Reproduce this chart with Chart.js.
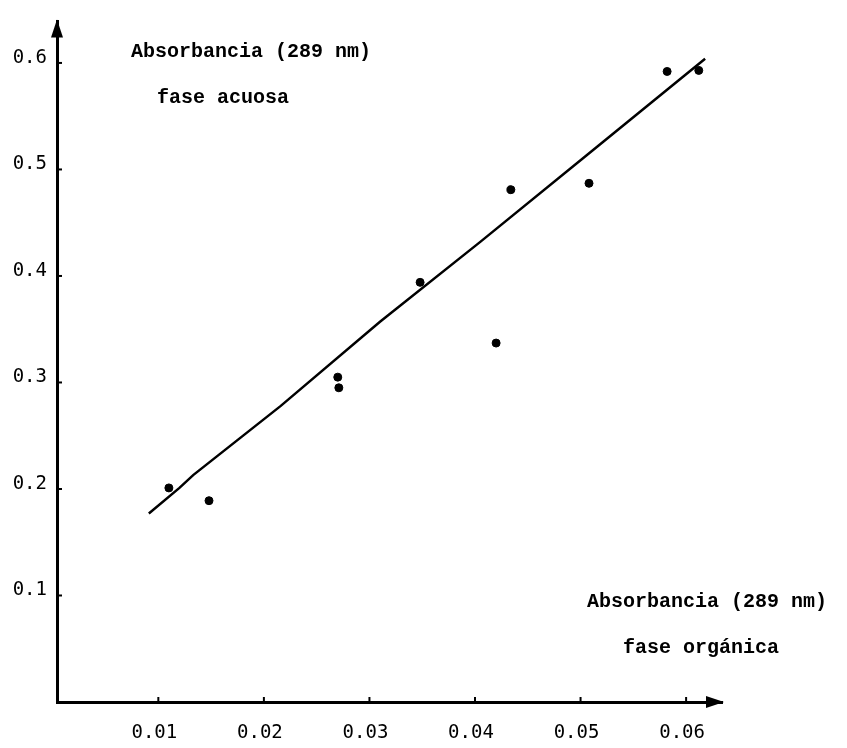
<!DOCTYPE html>
<html>
<head>
<meta charset="utf-8">
<script src="https://cdn.jsdelivr.net/npm/chart.js@4.4.1/dist/chart.umd.min.js"></script>
<style>
  body { margin: 0; background: #fff; }
  canvas { display: block; }
</style>
</head>
<body>
<canvas id="abs-chart" width="847" height="748"></canvas>
<script>
// ==============================================================
//
// Data
//
// ==============================================================

const pointX = [0.0110, 0.0148, 0.0270, 0.0271, 0.0348, 0.0420, 0.0434, 0.0508, 0.0582, 0.0612];
const pointY = [0.201, 0.189, 0.305, 0.295, 0.394, 0.337, 0.481, 0.487, 0.592, 0.593];

const fitX = [0.0091, 0.0120, 0.0133, 0.0216, 0.0310, 0.0405, 0.0509, 0.0618];
const fitY = [0.177, 0.201, 0.213, 0.278, 0.357, 0.432, 0.516, 0.604];

const xTicks = [0.01, 0.02, 0.03, 0.04, 0.05, 0.06];
const yTicks = [0.1, 0.2, 0.3, 0.4, 0.5, 0.6];

const topLabel = ["Absorbancia (289 nm)", "fase acuosa"];
const bottomLabel = ["Absorbancia (289 nm)", "fase orgánica"];

const typeFont = "'Liberation Mono', 'DejaVu Sans Mono', monospace";

// ==============================================================
//
// Plugin: arrows, inward tick marks and the typed captions
//
// ==============================================================

const paperPlugin = {
  id: "paper",
  afterDraw(chart) {
    const ctx = chart.ctx;
    const xs = chart.scales.x;
    const ys = chart.scales.y;
    const area = chart.chartArea;
    ctx.save();
    ctx.fillStyle = "#000";
    ctx.strokeStyle = "#000";

    // arrow heads
    ctx.beginPath();
    ctx.moveTo(area.left, area.top - 2);
    ctx.lineTo(area.left - 6, area.top + 16);
    ctx.lineTo(area.left + 6, area.top + 16);
    ctx.closePath();
    ctx.fill();
    ctx.beginPath();
    ctx.moveTo(area.right + 2, area.bottom);
    ctx.lineTo(area.right - 16, area.bottom - 6);
    ctx.lineTo(area.right - 16, area.bottom + 6);
    ctx.closePath();
    ctx.fill();

    // small tick marks pointing into the plot
    ctx.lineWidth = 2;
    yTicks.forEach((v) => {
      const py = ys.getPixelForValue(v);
      ctx.beginPath();
      ctx.moveTo(area.left, py);
      ctx.lineTo(area.left + 5, py);
      ctx.stroke();
    });
    xTicks.forEach((v) => {
      const px = xs.getPixelForValue(v);
      ctx.beginPath();
      ctx.moveTo(px, area.bottom);
      ctx.lineTo(px, area.bottom - 5);
      ctx.stroke();
    });

    // captions
    ctx.font = "bold 20px " + typeFont;
    ctx.textBaseline = "alphabetic";
    ctx.textAlign = "left";
    ctx.fillText(topLabel[0], 131, 57);
    ctx.fillText(topLabel[1], 157, 103);
    ctx.fillText(bottomLabel[0], 587, 607);
    ctx.fillText(bottomLabel[1], 623, 653);
    ctx.restore();
  },
};

// ==============================================================
//
// Chart
//
// ==============================================================

const ctx = document.getElementById("abs-chart").getContext("2d");

new Chart(ctx, {
  type: "scatter",
  data: {
    datasets: [
      {
        label: "Puntos",
        data: pointX.map((x, i) => ({ x: x, y: pointY[i] })),
        backgroundColor: "#000",
        borderColor: "#000",
        pointRadius: 4,
        pointHoverRadius: 4,
      },
      {
        label: "Recta",
        type: "line",
        data: fitX.map((x, i) => ({ x: x, y: fitY[i] })),
        borderColor: "#000",
        borderWidth: 2.5,
        pointRadius: 0,
        fill: false,
        tension: 0,
      },
    ],
  },
  options: {
    responsive: false,
    animation: false,
    layout: { padding: { top: 13, right: 125, left: 0, bottom: 0 } },
    plugins: {
      legend: { display: false },
      tooltip: { enabled: false },
    },
    scales: {
      x: {
        type: "linear",
        min: 0.0004,
        max: 0.0634,
        afterBuildTicks: (s) => {
          s.ticks = xTicks.map((v) => ({ value: v }));
        },
        afterFit: (s) => {
          s.height = 46;
        },
        grid: { display: false, drawTicks: false },
        border: { color: "#000", width: 3 },
        ticks: {
          color: "#000",
          padding: 20,
          maxRotation: 0,
          labelOffset: -4,
          font: { family: "'DejaVu Sans Mono', monospace", size: 19 },
          callback: (v) => v.toFixed(2),
        },
      },
      y: {
        type: "linear",
        min: 0,
        max: 0.639,
        afterBuildTicks: (s) => {
          s.ticks = yTicks.map((v) => ({ value: v }));
        },
        afterFit: (s) => {
          s.width = 57;
        },
        grid: { display: false, drawTicks: false },
        border: { color: "#000", width: 3 },
        ticks: {
          color: "#000",
          padding: 10,
          labelOffset: -5,
          font: { family: "'DejaVu Sans Mono', monospace", size: 19 },
          callback: (v) => v.toFixed(1),
        },
      },
    },
  },
  plugins: [paperPlugin],
});
</script>
</body>
</html>
